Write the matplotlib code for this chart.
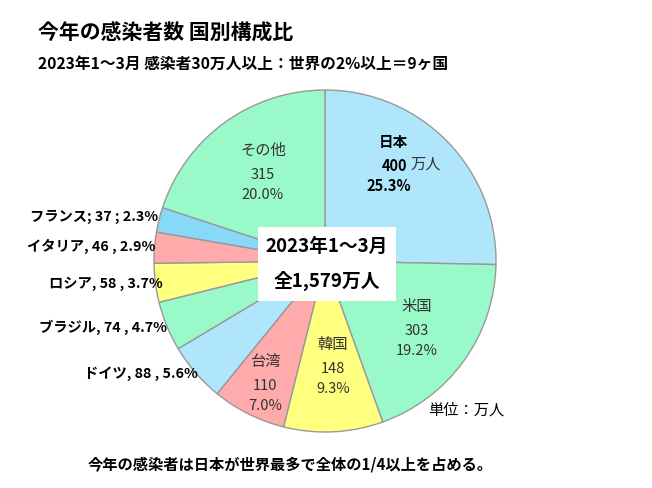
import matplotlib as mpl
mpl.use('Agg')
import matplotlib.pyplot as plt
from matplotlib.patches import Rectangle

plt.rcParams['font.family'] = ['Noto Sans CJK JP', 'DejaVu Sans']

# data (万人)
countries = ['日本', '米国', '韓国', '台湾', 'ドイツ', 'ブラジル', 'ロシア', 'イタリア', 'フランス', 'その他']
cases = [400, 303, 148, 110, 88, 74, 58, 46, 37, 315]
shares = ['25.3%', '19.2%', '9.3%', '7.0%', '5.6%', '4.7%', '3.7%', '2.9%', '2.3%', '20.0%']
colors = ['#b0e6fc', '#99f9c9', '#ffff80', '#ffabab', '#b0e6fc', '#99f9c9',
          '#ffff80', '#ffabab', '#88d8f8', '#99f9c9']

W, H = 652, 488
fig = plt.figure(figsize=(W / 100, H / 100), dpi=100)
ax = fig.add_axes([0, 0, 1, 1])

def Y(y):
    return H - y

ax.pie(cases, colors=colors, startangle=90, counterclock=False,
       center=(325, Y(261)), radius=171,
       wedgeprops=dict(edgecolor='#999999', linewidth=1))
ax.set_xlim(0, W)
ax.set_ylim(0, H)
ax.set_aspect('auto')
ax.axis('off')

# title and subtitle
ax.text(38, Y(33), '今年の感染者数 国別構成比', fontsize=15, fontweight='bold', va='center')
ax.text(38, Y(64), '2023年1～3月 感染者30万人以上：世界の2%以上＝9ヶ国',
        fontsize=11.3, fontweight='bold', va='center')

# Japan label (bold)
ax.text(393, Y(142), countries[0], fontsize=10.5, fontweight='bold', ha='center', va='center')
ax.text(395, Y(166), str(cases[0]), fontsize=10.5, fontweight='bold', ha='center', va='center')
ax.text(426, Y(164), '万人', fontsize=11, ha='center', va='center', color='#333333')
ax.text(389, Y(186), shares[0], fontsize=10.5, fontweight='bold', ha='center', va='center')

# inside labels
inside = {1: (417, 306), 2: (333, 344), 3: (265, 361), 9: (263, 150)}
for i, (x, y) in inside.items():
    ax.text(x, Y(y), countries[i], fontsize=11, ha='center', va='center', color='#333333')
    ax.text(x, Y(y + 25), str(cases[i]), fontsize=10.5, ha='center', va='center', color='#333333')
    ax.text(x, Y(y + 45), shares[i], fontsize=10.5, ha='center', va='center', color='#333333')

# outside labels
outside = {8: (158, 217, '; '), 7: (155, 246, ', '), 6: (163, 284, ', '),
           5: (167, 327, ', '), 4: (198, 374, ', ')}
for i, (x, y, sep) in outside.items():
    sep2 = ' ; ' if sep == '; ' else ' , '
    ax.text(x, Y(y), countries[i] + sep + str(cases[i]) + sep2 + shares[i],
            fontsize=10.3, fontweight='bold', ha='right', va='center')

# center box
ax.add_patch(Rectangle((258, Y(301)), 138, 74, facecolor='white', edgecolor='none', zorder=3))
ax.text(327, Y(246), '2023年1～3月', fontsize=13.5, fontweight='bold', ha='center', va='center', zorder=4)
ax.text(327, Y(281), '全1,579万人', fontsize=13.5, fontweight='bold', ha='center', va='center', zorder=4)

ax.text(466, Y(410), '単位：万人', fontsize=11, ha='center', va='center')
ax.text(290, Y(465), '今年の感染者は日本が世界最多で全体の1/4以上を占める。',
        fontsize=11, fontweight='bold', ha='center', va='center')

fig.savefig('out.png', dpi=100)
